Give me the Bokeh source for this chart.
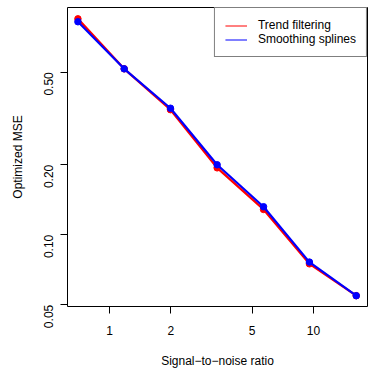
from bokeh.plotting import figure
from bokeh.models import Range1d, FixedTicker, Legend, LegendItem, ColumnDataSource
from bokeh.embed import file_html
from bokeh.resources import INLINE
import math

snr = [0.70, 1.18, 1.99, 3.37, 5.69, 9.55, 16.2]
trend_filtering = [0.848, 0.517, 0.345, 0.194, 0.1285, 0.075, 0.0547]
smoothing_splines = [0.824, 0.517, 0.350, 0.200, 0.132, 0.0763, 0.0547]

x_ticks = [1, 2, 5, 10]
y_ticks = [0.05, 0.1, 0.2, 0.5]
y_tick_labels = {0.05: "0.05", 0.1: "0.10", 0.2: "0.20", 0.5: "0.50"}

FONT = "Liberation Sans"

p = figure(width=374, height=374, x_axis_type="log", y_axis_type="log",
           output_backend="svg", toolbar_location=None,
           x_range=Range1d(0.6223, 18.40), y_range=Range1d(0.04915, 0.9489),
           min_border_left=67, min_border_right=7, min_border_top=7, min_border_bottom=68,
           x_axis_label="Signal\u2212to\u2212noise ratio", y_axis_label="Optimized MSE")

p.grid.visible = False
p.outline_line_color = "black"
p.outline_line_width = 1
p.background_fill_color = "white"
p.border_fill_color = "white"

for ax in (p.xaxis[0], p.yaxis[0]):
    ax.axis_line_color = None
    ax.major_tick_out = 7
    ax.major_tick_in = 0
    ax.minor_tick_line_color = None
    ax.major_tick_line_color = "black"
    ax.major_label_text_font = FONT
    ax.major_label_text_font_size = "12px"
    ax.major_label_text_color = "black"
    ax.axis_label_text_font = FONT
    ax.axis_label_text_font_size = "12px"
    ax.axis_label_text_font_style = "normal"
    ax.axis_label_text_color = "black"

p.xaxis[0].ticker = FixedTicker(ticks=x_ticks, minor_ticks=[])
p.xaxis[0].major_label_overrides = {t: str(t) for t in x_ticks}
p.xaxis[0].major_label_standoff = 12
p.xaxis[0].axis_label_standoff = 16

p.yaxis[0].ticker = FixedTicker(ticks=y_ticks, minor_ticks=[])
p.yaxis[0].major_label_overrides = y_tick_labels
p.yaxis[0].major_label_orientation = math.pi / 2
p.yaxis[0].major_label_standoff = 12
p.yaxis[0].axis_label_standoff = 12

p.line(snr, trend_filtering, line_color="red", line_width=2.2)
p.scatter(snr, trend_filtering, size=6.5, fill_color="red", line_color="red")
p.line(snr, smoothing_splines, line_color="blue", line_width=2.2)
p.scatter(snr, smoothing_splines, size=6.5, fill_color="blue", line_color="blue")

# legend-only renderers (thin lines), placed far outside the visible range
dummy = ColumnDataSource(data=dict(x=[1e-6, 2e-6], y=[1e-6, 2e-6]))
lr = p.line("x", "y", source=dummy, line_color="red", line_width=1)
lb = p.line("x", "y", source=dummy, line_color="blue", line_width=1)

legend = Legend(items=[LegendItem(label="Trend filtering", renderers=[lr]),
                       LegendItem(label="Smoothing splines", renderers=[lb])],
                location="top_right", margin=0, padding=10, spacing=0,
                glyph_width=22, glyph_height=13, label_height=13, label_standoff=11,
                label_text_font=FONT, label_text_font_size="12px", label_text_color="black",
                border_line_color="black", border_line_width=1,
                background_fill_color="white", background_fill_alpha=1)
p.add_layout(legend)

open("out.html", "w").write(file_html(p, INLINE))
